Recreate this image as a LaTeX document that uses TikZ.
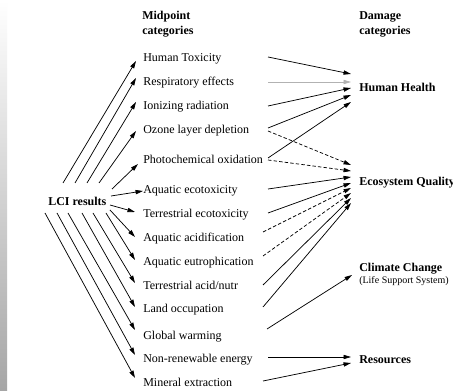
\documentclass[tikz,border=0pt]{standalone}
\usepackage{fontspec}
\setmainfont{Liberation Serif}
\usetikzlibrary{arrows.meta,calc}
\begin{document}
\begin{tikzpicture}[x=0.75pt,y=-0.75pt,
  txt/.style={anchor=west,inner sep=0pt,text height=8pt,text depth=1pt,font=\fontsize{9}{11}\selectfont},
  hdr/.style={anchor=north west,inner sep=0pt,align=left,font=\fontsize{9}{11.5}\selectfont\bfseries},
  dmg/.style={txt,font=\fontsize{9}{11}\selectfont\bfseries},
  arr/.style={line width=0.55pt,-{Triangle[length=5.6pt,width=3.2pt]}},
  darr/.style={arr,dash pattern=on 2.6pt off 1.6pt}]
\useasboundingbox (0,0) rectangle (453,391);
\fill[white] (0,0) rectangle (453,391);
\shade[top color=white,bottom color=gray!70] (0,0) rectangle (7,391);
% headers
\node[hdr] (mh) at (142,11) {Midpoint\\categories};
\node[hdr] (dh) at (359,11) {Damage\\categories};
% LCI
\node[dmg] (lci) at (48,201) {LCI results};
% midpoint categories
\node[txt] (m1) at (143,57) {Human Toxicity};
\node[txt] (m2) at (143,81) {Respiratory effects};
\node[txt] (m3) at (143,105) {Ionizing radiation};
\node[txt] (m4) at (143,129) {Ozone layer depletion};
\node[txt] (m5) at (143,159) {Photochemical oxidation};
\node[txt] (m6) at (143,189) {Aquatic ecotoxicity};
\node[txt] (m7) at (143,213) {Terrestrial ecotoxicity};
\node[txt] (m8) at (143,237) {Aquatic acidification};
\node[txt] (m9) at (143,261) {Aquatic eutrophication};
\node[txt] (m10) at (143,285) {Terrestrial acid/nutr};
\node[txt] (m11) at (143,308) {Land occupation};
\node[txt] (m12) at (143,335) {Global warming};
\node[txt] (m13) at (143,358) {Non-renewable energy};
\node[txt] (m14) at (143,382) {Mineral extraction};
% damage categories
\node[dmg] (hh) at (359,87) {Human Health};
\node[dmg] (eq) at (359,181) {Ecosystem Quality};
\node[dmg] (cc) at (359,267) {Climate Change};
\node[txt,font=\fontsize{7.5}{9}\selectfont,text height=6.5pt] (lss) at (359,280) {(Life Support System)};
\node[dmg] (res) at (359,359) {Resources};
% LCI -> midpoints
\draw[arr] ($(lci.west)+(15,-18)$) -- ($(m1.west)+(-7,4)$);
\draw[arr] ($(lci.west)+(27,-18)$) -- ($(m2.west)+(-7,-3)$);
\draw[arr] ($(lci.west)+(39,-18)$) -- ($(m3.west)+(-7,-3)$);
\draw[arr] ($(lci.west)+(51,-18)$) -- ($(m4.west)+(-7,2)$);
\draw[arr] ($(lci.west)+(64,-12)$) -- ($(m5.west)+(-5,5)$);
\draw[arr] ($(lci.west)+(63,-5)$) -- ($(m6.west)+(0,2)$);
\draw[arr] ($(lci.west)+(62,4)$) -- ($(m7.west)+(-8,-1)$);
\draw[arr] ($(lci.west)+(62,9)$) -- ($(m8.west)+(-8,0)$);
\draw[arr] ($(lci.west)+(58,12)$) -- ($(m9.west)+(-8,-1)$);
\draw[arr] ($(lci.west)+(45,12)$) -- ($(m10.west)+(-8,-2)$);
\draw[arr] ($(lci.west)+(34,12)$) -- ($(m11.west)+(-8,-1)$);
\draw[arr] ($(lci.west)+(20,12)$) -- ($(m12.west)+(-8,-5)$);
\draw[arr] ($(lci.west)+(9,12)$) -- ($(m13.west)+(-8,-3)$);
\draw[arr] ($(lci.west)+(-3,12)$) -- ($(m14.west)+(-8,-4)$);
% midpoints -> Human Health
\draw[arr] ($(m1.west)+(125,0)$) -- ($(hh.west)+(-8,-13)$);
\draw[arr,draw=gray!60] ($(m2.west)+(125,1)$) -- ($(hh.west)+(-8,-5)$);
\draw[arr] ($(m3.west)+(125,1)$) -- ($(hh.west)+(-8,1)$);
\draw[arr] ($(m4.west)+(125,-1)$) -- ($(hh.west)+(-8,8)$);
\draw[arr] ($(m5.west)+(125,-1)$) -- ($(hh.west)+(-8,15)$);
% midpoints -> Ecosystem Quality
\draw[darr] ($(m4.west)+(125,2)$) -- ($(eq.west)+(-8,-16)$);
\draw[darr] ($(m5.west)+(125,1)$) -- ($(eq.west)+(-8,-10)$);
\draw[arr] ($(m6.west)+(125,0)$) -- ($(eq.west)+(-8,-4)$);
\draw[arr] ($(m7.west)+(125,0)$) -- ($(eq.west)+(-8,2)$);
\draw[darr] ($(m8.west)+(120,-5)$) -- ($(eq.west)+(-8,7)$);
\draw[darr] ($(m9.west)+(120,-5)$) -- ($(eq.west)+(-8,12)$);
\draw[arr] ($(m10.west)+(120,0)$) -- ($(eq.west)+(-8,17)$);
\draw[arr] ($(m11.west)+(120,-1)$) -- ($(eq.west)+(-8,22)$);
% -> Climate change
\draw[arr] ($(m12.west)+(124,-6)$) -- ($(cc.west)+(-7,8)$);
% -> Resources
\draw[arr] ($(m13.west)+(125,-1)$) -- ($(res.west)+(-8,-2)$);
\draw[arr] ($(m14.west)+(120,-1)$) -- ($(res.west)+(-8,4)$);
\end{tikzpicture}
\end{document}
